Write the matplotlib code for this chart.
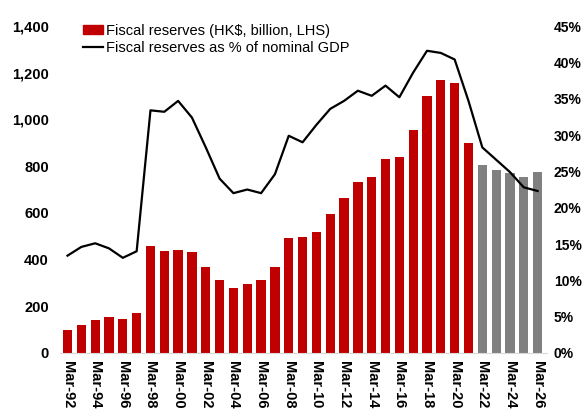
import matplotlib.pyplot as plt
import matplotlib.patches as mpatches
import matplotlib.lines as mlines
from matplotlib.ticker import FuncFormatter
import numpy as np

plt.rcParams['font.family'] = ['Liberation Sans Narrow', 'Liberation Sans', 'DejaVu Sans']

years = list(range(1992, 2027))
labels = ["Mar-%02d" % (y % 100) for y in years]

# fiscal reserves, HK$ billion (Mar-22 onwards are projections, grey)
reserves = [97, 119, 140, 152, 146, 173, 458, 435, 441, 431,
            370, 311, 278, 294, 311, 370, 491, 498, 518, 594,
            665, 732, 753, 830, 841, 956, 1102, 1167, 1157, 901,
            803, 784, 769, 753, 774]

# fiscal reserves as % of nominal GDP
pct_gdp = [13.4, 14.6, 15.1, 14.4, 13.1, 14.0, 33.4, 33.2, 34.7, 32.4,
           28.3, 24.0, 22.0, 22.5, 22.0, 24.6, 29.9, 29.0, 31.4, 33.6,
           34.7, 36.1, 35.4, 36.8, 35.2, 38.6, 41.6, 41.3, 40.4, 34.7,
           28.3, 26.6, 24.9, 22.8, 22.3]

n_actual = 30
red = '#C00000'
grey = '#808080'

x = np.arange(len(years))
colors = [red if i < n_actual else grey for i in range(len(years))]

fig = plt.figure(figsize=(5.86, 4.17), dpi=100)
ax = fig.add_axes([0.102, 0.1535, 0.831, 0.784])
ax.bar(x, reserves, width=0.67, color=colors, zorder=2)
ax.set_xlim(-0.56, 34.66)
ax.set_ylim(0, 1400)
ax.set_yticks(range(0, 1401, 200))
ax.yaxis.set_major_formatter(FuncFormatter(lambda v, p: f"{int(v):,}"))
ax.set_xticks(x[::2])
ax.set_xticklabels(labels[::2], rotation=270, fontsize=10.5, fontweight='bold')
for s in ['top', 'right', 'left']:
    ax.spines[s].set_visible(False)
ax.spines['bottom'].set_color('#d9d9d9')
ax.tick_params(axis='both', length=0, labelsize=10.5)
ax.tick_params(axis='x', pad=6)
ax.tick_params(axis='y', pad=8)
for t in ax.get_yticklabels():
    t.set_fontweight('bold')

ax2 = ax.twinx()
ax2.plot(x, pct_gdp, color='black', lw=1.6, zorder=3)
ax2.set_ylim(0, 45)
ax2.set_yticks(range(0, 46, 5))
ax2.yaxis.set_major_formatter(FuncFormatter(lambda v, p: f"{int(v)}%"))
for s in ['top', 'right', 'left', 'bottom']:
    ax2.spines[s].set_visible(False)
ax2.tick_params(axis='y', length=0, labelsize=10, pad=5)
for t in ax2.get_yticklabels():
    t.set_fontweight('bold')

h1 = mpatches.Patch(color=red, label='Fiscal reserves (HK$, billion, LHS)')
h2 = mlines.Line2D([], [], color='black', lw=1.6, label='Fiscal reserves as % of nominal GDP')
ax2.legend(handles=[h1, h2], loc='upper left', bbox_to_anchor=(0.035, 1.025),
           frameon=False, fontsize=10.5, handlelength=1.4, handleheight=0.6,
           handletextpad=0.2, labelspacing=0.25, borderaxespad=0)

fig.savefig('out.png', dpi=100)
